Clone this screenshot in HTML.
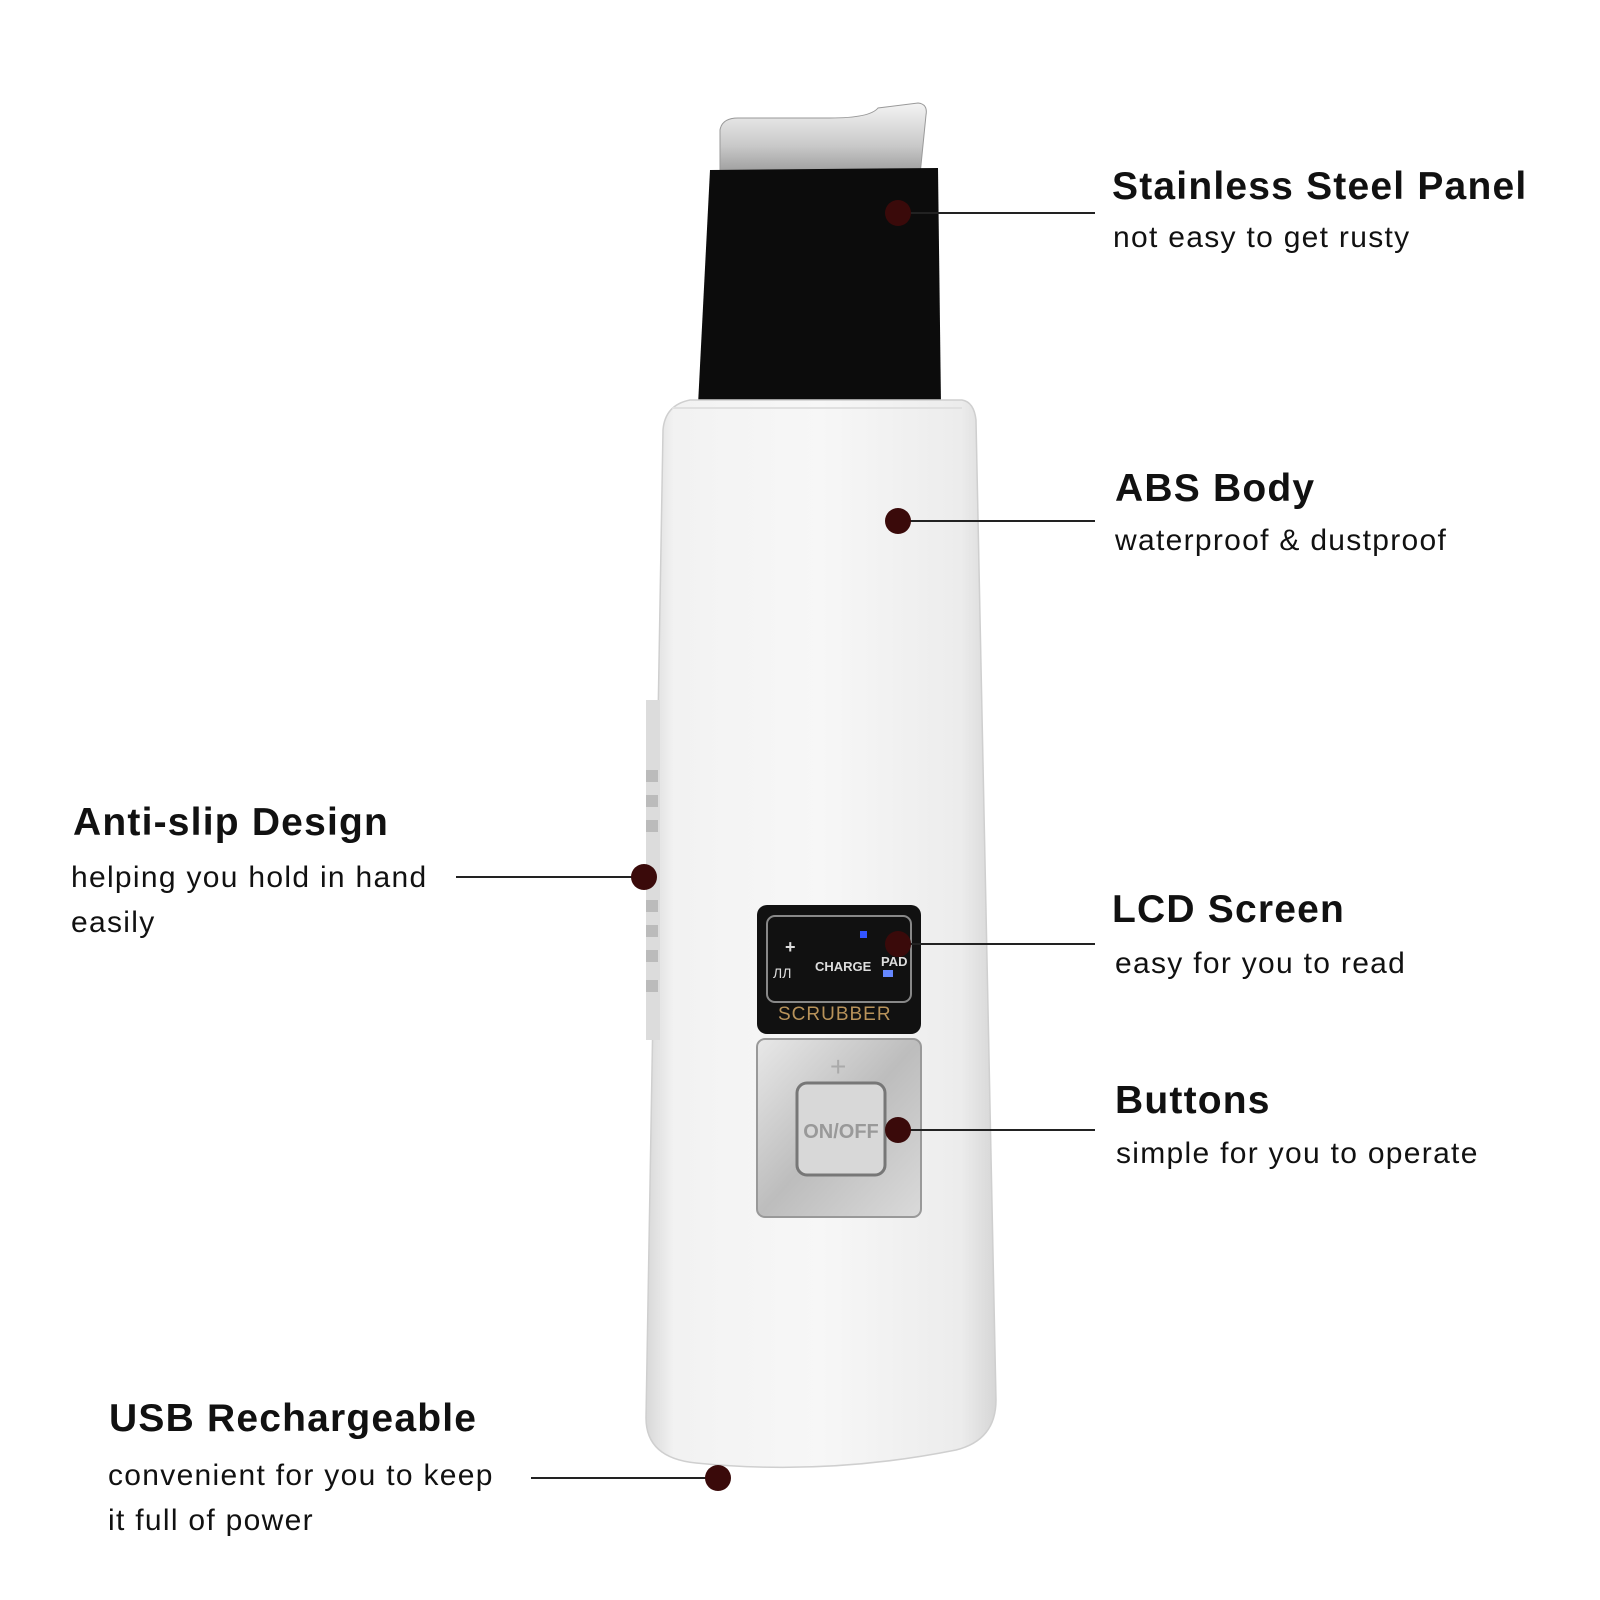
<!DOCTYPE html>
<html><head><meta charset="utf-8"><style>
html,body{margin:0;padding:0;background:#fff}
svg{display:block}
.t{font-family:"Liberation Sans",sans-serif;font-weight:bold;font-size:39px;fill:#111;letter-spacing:1.2px}
.s{font-family:"Liberation Sans",sans-serif;font-size:30px;fill:#111;letter-spacing:1.3px}
</style></head><body>
<svg width="1600" height="1600" viewBox="0 0 1600 1600" xmlns="http://www.w3.org/2000/svg">
<defs>
<linearGradient id="body" x1="0" x2="1" y1="0" y2="0">
<stop offset="0" stop-color="#d8d8d8"/><stop offset="0.08" stop-color="#f2f2f2"/><stop offset="0.5" stop-color="#f7f7f7"/><stop offset="0.9" stop-color="#ececec"/><stop offset="1" stop-color="#d6d6d6"/>
</linearGradient>
<linearGradient id="steel" x1="0" x2="0" y1="0" y2="1">
<stop offset="0" stop-color="#f4f4f4"/><stop offset="0.6" stop-color="#c8c8c8"/><stop offset="1" stop-color="#9a9a9a"/>
</linearGradient>
<linearGradient id="plate" x1="0" x2="1" y1="0" y2="1">
<stop offset="0" stop-color="#e8e8e8"/><stop offset="0.5" stop-color="#bdbdbd"/><stop offset="1" stop-color="#dadada"/>
</linearGradient>
</defs>
<path d="M720,175 L720,130 Q722,118 738,118 L830,118 Q870,118 878,108 L918,103 Q928,104 926,115 L920,175 Z" fill="url(#steel)" stroke="#999" stroke-width="1"/>
<path d="M710,170 L938,168 L941,405 L698,405 Z" fill="#0c0c0c"/>
<path d="M690,400 L962,400 Q974,402 976,420 L996,1400 Q996,1440 956,1450 Q826,1476 696,1463 Q646,1458 646,1418 L663,430 Q665,405 690,400 Z" fill="url(#body)" stroke="#cfcfcf" stroke-width="1.5"/>
<path d="M672,408 L962,408" stroke="#e0e0e0" stroke-width="2"/>
<rect x="646" y="700" width="14" height="340" fill="#dcdcdc"/>
<g fill="#bbb"><rect x="646" y="770" width="12" height="12"/><rect x="646" y="795" width="12" height="12"/><rect x="646" y="820" width="12" height="12"/><rect x="646" y="900" width="12" height="12"/><rect x="646" y="925" width="12" height="12"/><rect x="646" y="950" width="12" height="12"/><rect x="646" y="980" width="12" height="12"/></g>
<rect x="757" y="905" width="164" height="129" rx="10" fill="#111"/>
<rect x="767" y="916" width="144" height="86" rx="8" fill="none" stroke="#888" stroke-width="2"/>
<text x="785" y="953" font-family="Liberation Sans" font-size="18" fill="#ddd" font-weight="bold">+</text>
<text x="773" y="978" font-family="Liberation Sans" font-size="14" fill="#ddd">ЛЛ</text>
<text x="815" y="971" font-family="Liberation Sans" font-size="13" fill="#ddd" font-weight="bold">CHARGE</text>
<text x="881" y="966" font-family="Liberation Sans" font-size="13" fill="#ddd" font-weight="bold">PAD</text>
<rect x="860" y="931" width="7" height="7" fill="#3355ff"/><rect x="883" y="970" width="10" height="7" fill="#6688ff"/>
<text x="778" y="1020" font-family="Liberation Sans" font-size="19" fill="#b8925a" letter-spacing="1">SCRUBBER</text>
<rect x="757" y="1039" width="164" height="178" rx="8" fill="url(#plate)" stroke="#999" stroke-width="2"/>
<text x="830" y="1076" font-family="Liberation Sans" font-size="28" fill="#aaa">+</text>
<rect x="797" y="1083" width="88" height="92" rx="10" fill="#d8d8d8" stroke="#777" stroke-width="3"/>
<text x="841" y="1138" text-anchor="middle" font-family="Liberation Sans" font-size="20" fill="#999" font-weight="bold">ON/OFF</text>
<g stroke="#222" stroke-width="2">
<line x1="898" y1="213" x2="1095" y2="213"/><line x1="898" y1="521" x2="1095" y2="521"/>
<line x1="898" y1="944" x2="1095" y2="944"/><line x1="898" y1="1130" x2="1095" y2="1130"/>
<line x1="456" y1="877" x2="644" y2="877"/><line x1="531" y1="1478" x2="718" y2="1478"/>
</g>
<g fill="#3a0a0a">
<circle cx="898" cy="213" r="13"/><circle cx="898" cy="521" r="13"/><circle cx="898" cy="944" r="13"/>
<circle cx="898" cy="1130" r="13"/><circle cx="644" cy="877" r="13"/><circle cx="718" cy="1478" r="13"/>
</g>
<text class="t" x="1112" y="199">Stainless Steel Panel</text>
<text class="s" x="1113" y="247">not easy to get rusty</text>
<text class="t" x="1115" y="501">ABS Body</text>
<text class="s" x="1115" y="550">waterproof &amp; dustproof</text>
<text class="t" x="1112" y="922">LCD Screen</text>
<text class="s" x="1115" y="973">easy for you to read</text>
<text class="t" x="1115" y="1113">Buttons</text>
<text class="s" x="1116" y="1163">simple for you to operate</text>
<text class="t" x="73" y="835">Anti-slip Design</text>
<text class="s" x="71" y="887">helping you hold in hand</text>
<text class="s" x="71" y="932">easily</text>
<text class="t" x="109" y="1431">USB Rechargeable</text>
<text class="s" x="108" y="1485">convenient for you to keep</text>
<text class="s" x="108" y="1530">it full of power</text>
</svg>
</body></html>
